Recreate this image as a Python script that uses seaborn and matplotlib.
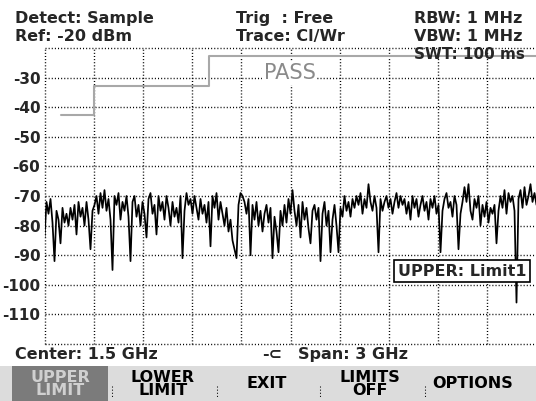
import numpy as np
import pandas as pd
import matplotlib
matplotlib.use('Agg')
import matplotlib.pyplot as plt
from matplotlib.patches import Rectangle
from matplotlib.lines import Line2D
import seaborn as sns

# trace levels (dBm), sample detector, 0..3 GHz
levels = [
    -84, -72, -76, -71, -79, -92, -75, -78, -86, -74, -79, -76, -80, -74, -78,
    -73, -83, -72, -77, -74, -80, -72, -78, -88, -75, -73, -70, -76, -69, -74,
    -68, -75, -71, -78, -95, -70, -73, -69, -78, -72, -75, -70, -77, -92, -72,
    -70, -77, -73, -80, -72, -76, -84, -71, -69, -76, -73, -83, -70, -75, -72,
    -78, -70, -74, -80, -72, -77, -74, -79, -70, -91, -75, -69, -73, -71, -76,
    -70, -74, -78, -71, -76, -73, -79, -72, -87, -70, -74, -69, -78, -72, -76,
    -80, -74, -82, -78, -85, -88, -91, -73, -69, -70, -72, -76, -71, -90, -73,
    -78, -72, -80, -75, -82, -76, -73, -79, -74, -91, -77, -82, -89, -75, -80,
    -73, -79, -71, -76, -68, -75, -80, -73, -84, -72, -78, -74, -81, -86, -75,
    -73, -78, -74, -92, -76, -72, -80, -75, -89, -78, -73, -80, -89, -74, -77,
    -70, -75, -72, -77, -71, -74, -70, -73, -69, -76, -71, -74, -66, -72, -75,
    -70, -74, -89, -71, -75, -72, -70, -74, -71, -76, -72, -69, -74, -70, -73,
    -71, -76, -72, -78, -70, -74, -71, -77, -73, -70, -75, -72, -78, -71, -74,
    -70, -76, -73, -89, -75, -71, -69, -74, -72, -77, -70, -73, -88, -76, -72,
    -67, -72, -66, -75, -78, -71, -74, -70, -80, -73, -77, -72, -79, -74, -76,
    -73, -86, -75, -70, -74, -68, -76, -69, -72, -70, -75, -106, -71, -68, -74,
    -67, -73, -70, -66, -72, -69, -73,
]
freq = np.linspace(0, 3, len(levels))

# upper limit line
limit_freq = [0.1, 0.3, 0.3, 1.0, 1.0, 3.0]
limit_level = [-42.5, -42.5, -33, -33, -22.7, -22.7]

y_ticks = list(range(-120, -10, 10))
y_labels = ['' if v in (-120, -20) else str(v) for v in y_ticks]
x_grid = np.linspace(0, 3, 11)
softkeys = ['UPPER\nLIMIT', 'LOWER\nLIMIT', 'EXIT', 'LIMITS\nOFF', 'OPTIONS']
key_x = [60, 163, 267, 370, 473]

sns.set_theme(style='white')
plt.rcParams['font.family'] = ['DejaVu Sans']

W, H = 536, 401
fig = plt.figure(figsize=(W / 100, H / 100), dpi=100)
fig.patch.set_facecolor('white')
ax = fig.add_axes([44.5 / W, 1 - 344 / H, 492 / W, 296 / H])

trace = pd.DataFrame({'freq': freq, 'level': levels})
limit = pd.DataFrame({'freq': limit_freq, 'level': limit_level})

sns.lineplot(data=limit, x='freq', y='level', sort=False, estimator=None,
             color='#a8a8a8', linewidth=1.5, ax=ax, zorder=3)
sns.lineplot(data=trace, x='freq', y='level', sort=False, estimator=None,
             color='black', linewidth=1.25, ax=ax, zorder=4)

ax.set_xlim(0, 3)
ax.set_ylim(-120, -20)
ax.set_xticks(x_grid)
ax.set_xticklabels([])
ax.set_yticks(y_ticks)
ax.set_yticklabels(y_labels, fontsize=11, fontweight='bold')
ax.tick_params(length=0, pad=3)
ax.grid(False)
dots = dict(color='black', linestyle=(0, (0.75, 1.5)), linewidth=1.0,
            clip_on=False, zorder=1)
for v in y_ticks:
    ax.axhline(v, **dots)
for v in x_grid:
    ax.axvline(v, **dots)
for s in ax.spines.values():
    s.set_visible(False)
ax.set_xlabel('')
ax.set_ylabel('')
ax.set_facecolor('white')

ax.text(1.494, -28.6, 'PASS', color='#8a8a8a', fontsize=15, ha='center',
        va='center', zorder=2, bbox=dict(facecolor='white', edgecolor='none', pad=1))


def ftext(x, y, s, **kw):
    kw.setdefault('fontsize', 11.5)
    kw.setdefault('fontweight', 'bold')
    kw.setdefault('va', 'top')
    fig.text(x / W, 1 - y / H, s, **kw)


ftext(15, 11, 'Detect: Sample')
ftext(15, 29, 'Ref: -20 dBm')
ftext(236, 11, 'Trig  : Free')
ftext(236, 29, 'Trace: Cl/Wr')
ftext(414, 11, 'RBW: 1 MHz')
ftext(414, 29, 'VBW: 1 MHz')
ftext(414, 47, 'SWT: 100 ms', fontsize=11, zorder=1)

ftext(15, 347, 'Center: 1.5 GHz')
ftext(262, 347, '-⊂')
ftext(298, 347, 'Span: 3 GHz')

ftext(462, 271, 'UPPER: Limit1', fontsize=11.5, ha='center', va='center',
      bbox=dict(facecolor='white', edgecolor='black', linewidth=1.2,
                boxstyle='square,pad=0.25'))

# softkey bar
fig.patches.append(Rectangle((0, 0), 1, 35 / H, transform=fig.transFigure,
                             facecolor='#dcdcdc', edgecolor='none', zorder=0))
fig.patches.append(Rectangle((12 / W, 0), 96 / W, 35 / H, transform=fig.transFigure,
                             facecolor='#7b7b7b', edgecolor='none', zorder=0))
for i, (lab, kx) in enumerate(zip(softkeys, key_x)):
    ftext(kx, 384, lab, ha='center', va='center', fontsize=11.5,
          linespacing=0.9, color='#d0d0d0' if i == 0 else 'black')
for sx in [112, 217, 320, 425]:
    fig.lines.append(Line2D([sx / W, sx / W], [1 - 386 / H, 1 - 398 / H],
                            transform=fig.transFigure, color='black',
                            linestyle=(0, (1, 2)), linewidth=0.75))

fig.savefig('out.png', dpi=100)
